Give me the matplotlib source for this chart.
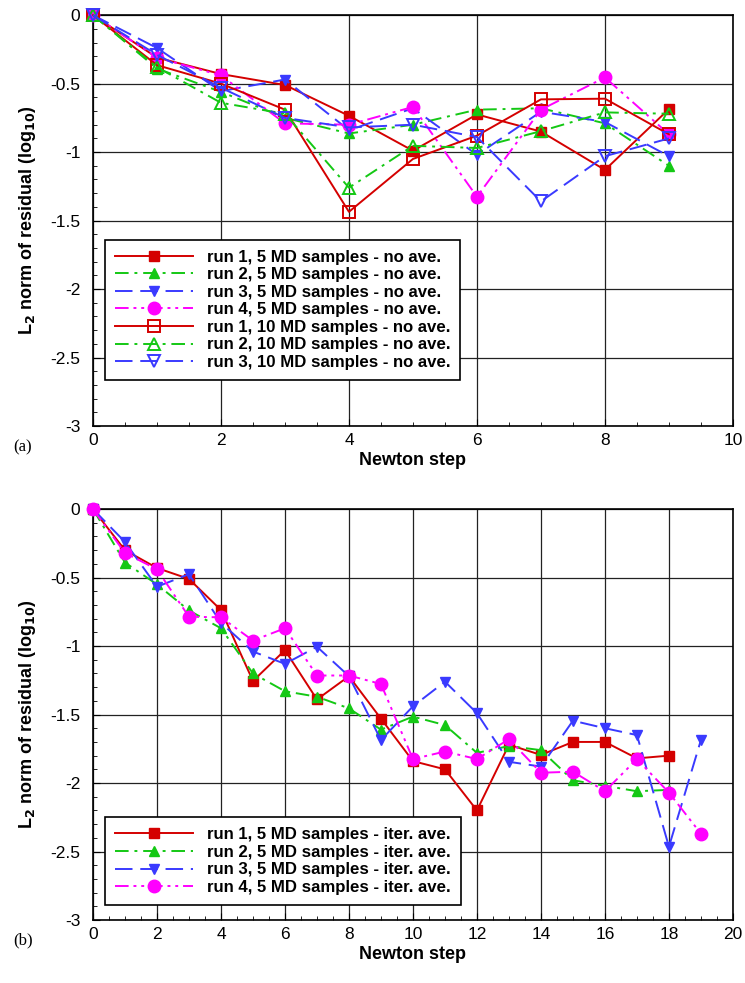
import matplotlib
matplotlib.use("Agg")
import matplotlib.pyplot as plt
from matplotlib.ticker import MultipleLocator, FormatStrFormatter

plt.rcParams["font.family"] = ["Liberation Sans", "DejaVu Sans"]

# ---- data: panel (a), no averaging ----
steps_a = list(range(10))
a_run1_5 = [0, -0.31, -0.43, -0.51, -0.735, -0.99, -0.725, -0.85, -1.13, -0.686]
a_run2_5 = [0, -0.39, -0.56, -0.75, -0.864, -0.80, -0.69, -0.68, -0.79, -1.10]
a_run3_5 = [0, -0.24, -0.555, -0.47, -0.84, -0.68, -1.02, -0.705, -0.78, -1.03]
a_run4_5 = [0, -0.31, -0.44, -0.79, -0.80, -0.67, -1.326, -0.69, -0.455, -0.87]
a_run1_10 = [0, -0.365, -0.50, -0.69, -1.436, -1.05, -0.88, -0.615, -0.61, -0.87]
a_run2_10 = [0, -0.38, -0.64, -0.72, -1.26, -0.954, -0.97, -0.847, -0.71, -0.72]
a_run3_10 = [0, -0.29, -0.53, -0.75, -0.82, -0.80, -0.89, -1.36, -1.03, -0.90]

# ---- data: panel (b), iterative averaging ----
b_run1_x = list(range(19))
b_run1 = [0, -0.30, -0.43, -0.51, -0.737, -1.255, -1.03, -1.39, -1.22, -1.53,
          -1.84, -1.90, -2.20, -1.72, -1.795, -1.70, -1.70, -1.82, -1.80]
b_run2_x = list(range(19))
b_run2 = [0, -0.39, -0.55, -0.74, -0.87, -1.20, -1.33, -1.37, -1.455, -1.61,
          -1.515, -1.577, -1.78, -1.73, -1.76, -1.98, -2.02, -2.06, -2.05]
b_run3_x = list(range(20))
b_run3 = [0, -0.24, -0.567, -0.475, -0.83, -1.04, -1.13, -1.005, -1.22, -1.686,
          -1.44, -1.26, -1.49, -1.845, -1.88, -1.545, -1.60, -1.65, -2.465, -1.686]
b_run4_x = list(range(20))
b_run4 = [0, -0.32, -0.44, -0.786, -0.79, -0.96, -0.87, -1.215, -1.215, -1.277,
          -1.825, -1.77, -1.825, -1.68, -1.925, -1.917, -2.06, -1.825, -2.07, -2.37]

RED = "#d40000"
GREEN = "#14c814"
BLUE = "#3a3aff"
MAGENTA = "#ff00ff"

DASHDOT = (0, (7, 3, 1.5, 3))
DASHED = (0, (9, 4))
DASHDOTDOT = (0, (7, 2.5, 1.5, 2.5, 1.5, 2.5))


def style_axes(ax, xmax):
    ax.set_xlim(0, xmax)
    ax.set_ylim(-3, 0)
    ax.xaxis.set_major_locator(MultipleLocator(2))
    ax.xaxis.set_minor_locator(MultipleLocator(0.5))
    ax.yaxis.set_major_locator(MultipleLocator(0.5))
    ax.yaxis.set_minor_locator(MultipleLocator(0.1))
    ax.xaxis.set_major_formatter(FormatStrFormatter("%g"))
    ax.yaxis.set_major_formatter(FormatStrFormatter("%g"))
    ax.tick_params(which="both", direction="in", top=False, right=False, labelsize=12.5)
    ax.tick_params(which="major", length=5)
    ax.tick_params(which="minor", length=3)
    ax.tick_params(axis="y", which="major", pad=9)
    ax.tick_params(axis="x", which="major", pad=5)
    ax.grid(True, which="major", color="#222222", linewidth=0.9)
    ax.set_axisbelow(True)
    for sp in ax.spines.values():
        sp.set_linewidth(1.2)
    ax.set_xlabel("Newton step", fontsize=13, fontweight="bold", labelpad=3)
    ax.set_ylabel(r"L$_\mathbf{2}$ norm of residual (log$_\mathbf{10}$)", fontsize=13,
                  fontweight="bold", labelpad=9)


fig = plt.figure(figsize=(7.45, 9.83), dpi=100)
ax1 = fig.add_axes([0.1248, 0.5666, 0.859, 0.418])
ax2 = fig.add_axes([0.1248, 0.0641, 0.859, 0.418])

kw = dict(linewidth=1.4, clip_on=False, zorder=3)

ax1.plot(steps_a, a_run1_5, color=RED, linestyle="-", marker="s", markersize=7,
         label="run 1, 5 MD samples - no ave.", **kw)
ax1.plot(steps_a, a_run2_5, color=GREEN, linestyle=DASHDOT, marker="^", markersize=7,
         label="run 2, 5 MD samples - no ave.", **kw)
ax1.plot(steps_a, a_run3_5, color=BLUE, linestyle=DASHED, marker="v", markersize=7,
         label="run 3, 5 MD samples - no ave.", **kw)
ax1.plot(steps_a, a_run4_5, color=MAGENTA, linestyle=DASHDOTDOT, marker="o", markersize=9,
         label="run 4, 5 MD samples - no ave.", **kw)
ax1.plot(steps_a, a_run1_10, color=RED, linestyle="-", marker="s", markersize=8,
         markerfacecolor="none", markeredgewidth=1.4,
         label="run 1, 10 MD samples - no ave.", **kw)
ax1.plot(steps_a, a_run2_10, color=GREEN, linestyle=DASHDOT, marker="^", markersize=9,
         markerfacecolor="none", markeredgewidth=1.4,
         label="run 2, 10 MD samples - no ave.", **kw)
ax1.plot(steps_a, a_run3_10, color=BLUE, linestyle=DASHED, marker="v", markersize=9,
         markerfacecolor="none", markeredgewidth=1.4,
         label="run 3, 10 MD samples - no ave.", **kw)
style_axes(ax1, 10)

ax2.plot(b_run1_x, b_run1, color=RED, linestyle="-", marker="s", markersize=7,
         label="run 1, 5 MD samples - iter. ave.", **kw)
ax2.plot(b_run2_x, b_run2, color=GREEN, linestyle=DASHDOT, marker="^", markersize=7,
         label="run 2, 5 MD samples - iter. ave.", **kw)
ax2.plot(b_run3_x, b_run3, color=BLUE, linestyle=DASHED, marker="v", markersize=7,
         label="run 3, 5 MD samples - iter. ave.", **kw)
ax2.plot(b_run4_x, b_run4, color=MAGENTA, linestyle=DASHDOTDOT, marker="o", markersize=9,
         label="run 4, 5 MD samples - iter. ave.", **kw)
style_axes(ax2, 20)

for ax, anchor in ((ax1, (0.019, 0.112)), (ax2, (0.019, 0.0365))):
    leg = ax.legend(loc="lower left", bbox_to_anchor=anchor,
                    prop={"weight": "bold", "size": 12.1}, handlelength=4.6,
                    labelspacing=0.15, borderpad=0.6, handletextpad=0.85,
                    borderaxespad=0, fancybox=False, framealpha=1, edgecolor="black")
    leg.get_frame().set_linewidth(1.2)
    leg.set_zorder(5)

fig.text(0.018, 0.545, "(a)", fontsize=12, family=["Liberation Serif", "DejaVu Serif"],
         ha="left", va="center")
fig.text(0.018, 0.043, "(b)", fontsize=12, family=["Liberation Serif", "DejaVu Serif"],
         ha="left", va="center")

fig.savefig("out.png", dpi=100)
